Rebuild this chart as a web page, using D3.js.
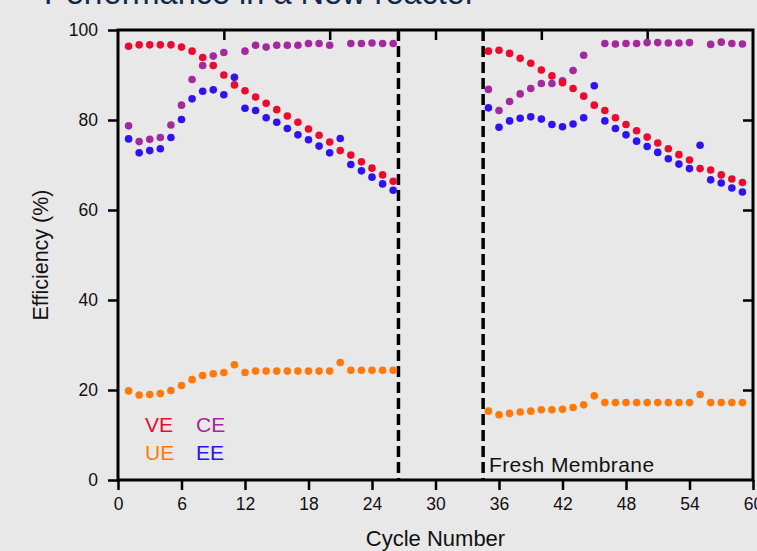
<!DOCTYPE html>
<html>
<head>
<meta charset="utf-8">
<script src="https://cdn.jsdelivr.net/npm/d3@7"></script>
<style>
  html, body { margin: 0; padding: 0; background: #e8e8e8; }
  svg { display: block; }
  text { font-family: "Liberation Sans", Arial, Helvetica, sans-serif; }
</style>
</head>
<body>
<svg id="chart" width="757" height="551"></svg>
<script>
// ---- data ----
const cyclesA = [1,2,3,4,5,6,7,8,9,10,11,12,13,14,15,16,17,18,19,20,21,22,23,24,25,26];
const cyclesB = [35,36,37,38,39,40,41,42,43,44,45,46,47,48,49,50,51,52,53,54,55,56,57,58,59];

const veA = [96.4,96.7,96.7,96.7,96.7,96.2,95.3,93.9,92.1,90.0,87.8,86.5,85.1,83.7,82.3,80.9,79.5,78.0,76.6,75.1,73.2,72.2,70.7,69.3,67.8,66.4];
const ceA = [78.7,75.2,75.7,76.1,78.9,83.3,89.0,92.1,94.2,95.0,null,95.3,96.6,96.2,96.6,96.6,96.6,97.0,97.0,96.6,null,97.0,97.0,97.1,97.0,97.0];
const eeA = [75.8,72.7,73.2,73.6,76.1,80.1,84.7,86.4,86.7,85.6,89.5,82.6,82.1,80.5,79.5,78.1,76.7,75.6,74.2,72.7,75.9,70.1,68.7,67.3,65.8,64.4];
const ueA = [19.8,18.9,19.0,19.2,19.9,21.0,22.3,23.2,23.6,23.9,25.6,23.9,24.2,24.2,24.2,24.2,24.2,24.2,24.2,24.2,26.1,24.4,24.4,24.4,24.4,24.4];

const veB = [95.3,95.5,94.8,93.7,92.6,91.1,89.8,88.3,87.0,85.3,83.3,82.1,80.5,79.0,77.6,76.2,74.9,73.6,72.3,71.1,69.2,68.9,67.8,66.9,66.1];
const ceB = [86.8,82.1,84.1,85.8,87.0,88.1,88.1,88.7,91.0,94.4,null,97.0,96.9,97.0,97.0,97.2,97.2,97.1,97.1,97.2,null,96.8,97.3,97.0,96.9];
const eeB = [82.7,78.4,79.8,80.4,80.7,80.2,79.0,78.5,79.1,80.5,87.6,79.8,78.1,76.7,75.3,74.1,72.8,71.4,70.2,69.2,74.4,66.7,66.0,64.9,64.0];
const ueB = [15.3,14.5,14.8,15.1,15.3,15.6,15.6,15.7,16.1,16.7,18.7,17.2,17.2,17.2,17.2,17.2,17.2,17.2,17.2,17.2,19.0,17.2,17.2,17.2,17.2];

const xTicks = [0,6,12,18,24,30,36,42,48,54,60];
const xTopTicks = [10,20,30,40,50];
const yTicks = [0,20,40,60,80,100];
const yRightTicks = [20,40,60,80];
const dividers = [26.5, 34.5];

const seriesNames = ["VE","CE","UE","EE"];
const seriesColors = {VE:"#ec0b2e", CE:"#a4299c", UE:"#ff780a", EE:"#2e12f2"};
const titleText = "Performance in a New reactor";

// ---- chart ----
const svg = d3.select("#chart");
const L = 118, R = 753, T = 30, B = 480;
const x = d3.scaleLinear().domain([0,60]).range([L,R]);
const y = d3.scaleLinear().domain([0,100]).range([B,T]);

// title (cut off at top)
svg.append("text").attr("x",44).attr("y",4)
  .attr("font-size",32.5).attr("fill","#13294b").text(titleText);

// axes
const gx = svg.append("g").attr("transform",`translate(0,${B})`)
  .call(d3.axisBottom(x).tickValues(xTicks).tickSize(10).tickPadding(8).tickFormat(d3.format("d")));
const gy = svg.append("g").attr("transform",`translate(${L},0)`)
  .call(d3.axisLeft(y).tickValues(yTicks).tickSize(10).tickPadding(10).tickFormat(d3.format("d")));
const gt = svg.append("g").attr("transform",`translate(0,${T})`)
  .call(d3.axisBottom(x).tickValues(xTopTicks).tickSize(10).tickFormat(""));
const gr = svg.append("g").attr("transform",`translate(${R},0)`)
  .call(d3.axisLeft(y).tickValues(yRightTicks).tickSize(10).tickFormat(""));
[gx,gy,gt,gr].forEach(g => {
  g.select(".domain").remove();
  g.selectAll(".tick line").attr("stroke","#000").attr("stroke-width",2.5);
  g.selectAll(".tick text").attr("fill","#111").attr("font-size",17.5)
    .attr("font-family",'"Liberation Sans", Arial, sans-serif');
});

// frame
svg.append("rect").attr("x",L).attr("y",T).attr("width",R-L).attr("height",B-T)
  .attr("fill","none").attr("stroke","#000").attr("stroke-width",3);

// dividers
svg.selectAll("line.div").data(dividers).enter().append("line")
  .attr("class","div")
  .attr("x1",d=>x(d)).attr("x2",d=>x(d)).attr("y1",T).attr("y2",B)
  .attr("stroke","#000").attr("stroke-width",3.5).attr("stroke-dasharray","11,5");

// points
function drawSeries(cycles, vals, color) {
  const pts = cycles.map((c,i)=>({c, v: vals[i]})).filter(p => p.v !== null);
  svg.append("g").selectAll("circle").data(pts).enter().append("circle")
    .attr("cx",d=>x(d.c)).attr("cy",d=>y(d.v)).attr("r",3.8).attr("fill",color);
}
drawSeries(cyclesA, ueA, seriesColors.UE);
drawSeries(cyclesB, ueB, seriesColors.UE);
drawSeries(cyclesA, ceA, seriesColors.CE);
drawSeries(cyclesB, ceB, seriesColors.CE);
drawSeries(cyclesA, eeA, seriesColors.EE);
drawSeries(cyclesB, eeB, seriesColors.EE);
drawSeries(cyclesA, veA, seriesColors.VE);
drawSeries(cyclesB, veB, seriesColors.VE);

// legend (2x2 text)
const legPos = {VE:[145,432], CE:[196,432], UE:[145,460], EE:[196,460]};
seriesNames.forEach(n => {
  svg.append("text").attr("x",legPos[n][0]).attr("y",legPos[n][1])
    .attr("font-size",21).attr("fill",seriesColors[n]).text(n);
});

// annotation
svg.append("text").attr("x",489).attr("y",472).attr("font-size",21)
  .attr("letter-spacing",0.4).attr("fill","#111").text("Fresh Membrane");

// axis labels
svg.append("text").attr("x",(L+R)/2).attr("y",546).attr("text-anchor","middle")
  .attr("font-size",22).attr("fill","#111").text("Cycle Number");
svg.append("text").attr("transform",`translate(48,${(T+B)/2}) rotate(-90)`)
  .attr("text-anchor","middle").attr("font-size",21.5).attr("fill","#111").text("Efficiency (%)");
</script>
</body>
</html>
